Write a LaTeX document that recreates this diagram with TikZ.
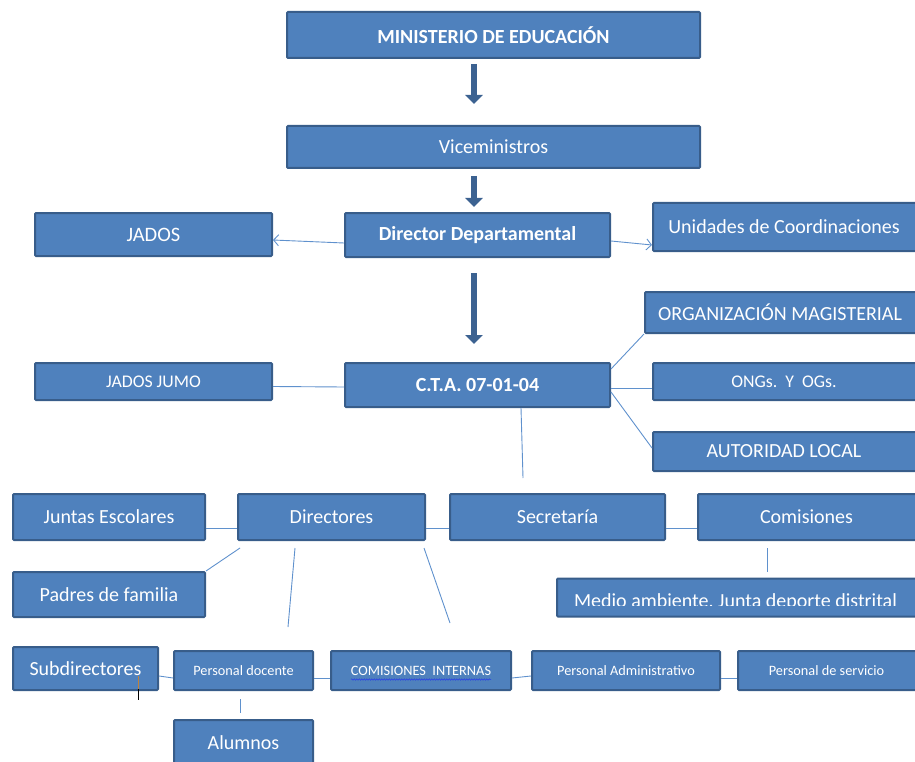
\documentclass[tikz,border=0pt]{standalone}
\usepackage{fontspec}
\setmainfont{Carlito}
\usetikzlibrary{arrows.meta}
\usetikzlibrary{decorations.pathmorphing}
\definecolor{boxfill}{RGB}{79,129,189}
\definecolor{boxedge}{RGB}{56,93,138}
\definecolor{arrowblue}{RGB}{60,98,145}
\definecolor{linkblue}{RGB}{95,145,205}
\definecolor{spellblue}{RGB}{40,60,230}
\definecolor{cursorbrown}{RGB}{190,130,60}

\begin{document}
\begin{tikzpicture}[x=1pt,y=1pt,yscale=-1,
  box/.style={draw=boxedge,fill=boxfill,line width=2pt,rounded corners=1pt,text=white,inner sep=0pt,align=center},
  big/.style={font=\fontsize{20}{22}\selectfont},
  bigbold/.style={font=\fontsize{20}{22}\selectfont\bfseries},
  mid/.style={font=\fontsize{17.8}{20}\selectfont},
  small/.style={font=\fontsize{14.3}{16}\selectfont},
  bigarrow/.style={draw=arrowblue,line width=6pt,-{Triangle[length=9pt,width=17pt]}},
  thinarrow/.style={draw=linkblue,line width=0.9pt,-{Straight Barb[length=5pt,width=11pt]}},
  link/.style={draw=linkblue,line width=0.9pt}]
\useasboundingbox (0,0) rectangle (915,762);

%Shape: Rectangle top
\node [box,bigbold,minimum width=413,minimum height=46] (min) at (493.5,35) {MINISTERIO DE EDUCACIÓN};
\node [box,big,minimum width=413,minimum height=42] (vic) at (493.5,147) {Viceministros};
\node [box,minimum width=237,minimum height=43,font=\fontsize{20.5}{22}\selectfont] (jad) at (153.5,234.5) {JADOS};
\node [box,bigbold,minimum width=265,minimum height=44] (dd) at (477.5,235) {Director Departamental};
\node [box,big,minimum width=266,minimum height=48] (uni) at (786,227) {\hspace*{-4pt}Unidades de Coordinaciones};

%Shape: Rectangle middle
\node [box,big,minimum width=274,minimum height=41] (org) at (782,312.5) {\hspace*{-4pt}ORGANIZACIÓN MAGISTERIAL};
\node [box,bigbold,minimum width=265,minimum height=44] (cta) at (477.5,385) {C.T.A. 07-01-04};
\node [box,mid,minimum width=237,minimum height=37] (jj) at (153.5,381.5) {JADOS JUMO};
\node [box,mid,minimum width=266,minimum height=37] (ong) at (786,381.5) {\hspace*{-4pt}ONGs.\ \ Y\ \ OGs.};
\node [box,big,minimum width=266,minimum height=39] (aut) at (786,451.5) {\hspace*{-4pt}AUTORIDAD LOCAL};

%Shape: Rectangle school
\node [box,big,minimum width=192,minimum height=46] (jun) at (109,517) {Juntas Escolares};
\node [box,big,minimum width=187,minimum height=46] (dir) at (331.5,517) {Directores};
\node [box,big,minimum width=215,minimum height=46] (sec) at (557.5,517) {Secretaría};
\node [box,big,minimum width=221,minimum height=46] (com) at (808.5,517) {\hspace*{-4pt}Comisiones};
\node [box,big,minimum width=192,minimum height=45] (pad) at (109,594.5) {Padres de familia};
\node [box,minimum width=362,minimum height=38] (med) at (738,597.5) {};
% Text Node (cut at its lower edge)
\begin{scope}
\clip (med.north west) rectangle (915,605);
\node [big,text=white,anchor=base,inner sep=0pt] (medtext) at (735.5,607) {Medio ambiente, Junta deporte distrital};
\end{scope}

%Shape: Rectangle staff
\node [box,big,minimum width=145,minimum height=43] (sub) at (85.5,668.5) {Subdirectores};
\node [box,small,minimum width=139,minimum height=39] (pdo) at (243.5,670.5) {Personal docente};
\node [box,small,minimum width=180,minimum height=39] (cin) at (421,670.5) {COMISIONES\ \ INTERNAS};
\node [box,small,minimum width=188,minimum height=39] (pa) at (626,670.5) {Personal Administrativo};
\node [box,small,minimum width=181,minimum height=39] (pse) at (828.5,670.5) {\hspace*{-4pt}Personal de servicio};
\node [box,big,minimum width=139,minimum height=46] (alu) at (243.5,743) {Alumnos};

% thick arrows
\draw [bigarrow] ([xshift=-19.5pt,yshift=5pt]min.south) -- ([xshift=-19.5pt,yshift=-21pt]vic.north);
\draw [bigarrow] ([xshift=-19.5pt,yshift=7pt]vic.south) -- ([xshift=-3.5pt,yshift=-5pt]dd.north);
\draw [bigarrow] ([xshift=-3.5pt,yshift=15pt]dd.south) -- ([xshift=-3.5pt,yshift=-18pt]cta.north);

% thin arrows
\draw [thinarrow] ([yshift=8pt]dd.west) -- ([yshift=5.5pt]jad.east);
\draw [thinarrow] ([yshift=6pt]dd.east) -- ([yshift=18pt]uni.west);

% links
\draw [link] ([yshift=5pt]jj.east) -- ([yshift=2pt]cta.west);
\draw [link] ([yshift=7pt]cta.north east) -- (org.south west);
\draw [link] ([yshift=3pt]cta.east) -- ([yshift=6.5pt]ong.west);
\draw [link] ([yshift=7pt]cta.east) -- ([yshift=-3.5pt]aut.west);
\coordinate (ctaend) at (523,478);
\draw [link] ([xshift=43.5pt]cta.south) -- (ctaend);

\draw [link] ([yshift=11pt]jun.east) -- ([yshift=11pt]dir.west);
\draw [link] ([yshift=11pt]dir.east) -- ([yshift=11pt]sec.west);
\draw [link] ([yshift=11pt]sec.east) -- ([yshift=11pt]com.west);
\draw [link] ([xshift=-91.5pt,yshift=7pt]dir.south) -- (pad.north east);
\coordinate (dirA) at ([xshift=-36.5pt,yshift=7pt]dir.south);
\coordinate (dirAend) at (288,627);
\draw [link] (dirA) -- (dirAend);
\coordinate (dirB) at ([xshift=92.5pt,yshift=7pt]dir.south);
\coordinate (dirBend) at (450,623);
\draw [link] (dirB) -- (dirBend);
\draw [link] ([xshift=-41.5pt,yshift=7pt]com.south) -- ([xshift=29pt,yshift=-6pt]med.north);

\draw [link] ([yshift=7.5pt]sub.east) -- ([yshift=7.5pt]pdo.west);
\draw [link] ([yshift=7.5pt]pdo.east) -- ([yshift=7.5pt]cin.west);
\draw [link] ([yshift=7.5pt]cin.east) -- ([yshift=5.5pt]pa.west);
\draw [link] ([yshift=7.5pt]pa.east) -- ([yshift=7.5pt]pse.west);
\draw [link] ([xshift=-3.5pt,yshift=8pt]pdo.south) -- ([xshift=-3.5pt,yshift=-6pt]alu.north);

% spelling underline and cursor mark
\draw [spellblue,line width=0.5pt,decorate,decoration={snake,amplitude=0.7pt,segment length=2.5pt}]
  ([xshift=-70pt,yshift=9pt]cin.center) -- ([xshift=70pt,yshift=9pt]cin.center);
\draw [cursorbrown,line width=0.8pt] (138,676) -- (138,689);
\draw [black,line width=0.8pt] (138,689) -- (138,700);

\end{tikzpicture}
\end{document}
